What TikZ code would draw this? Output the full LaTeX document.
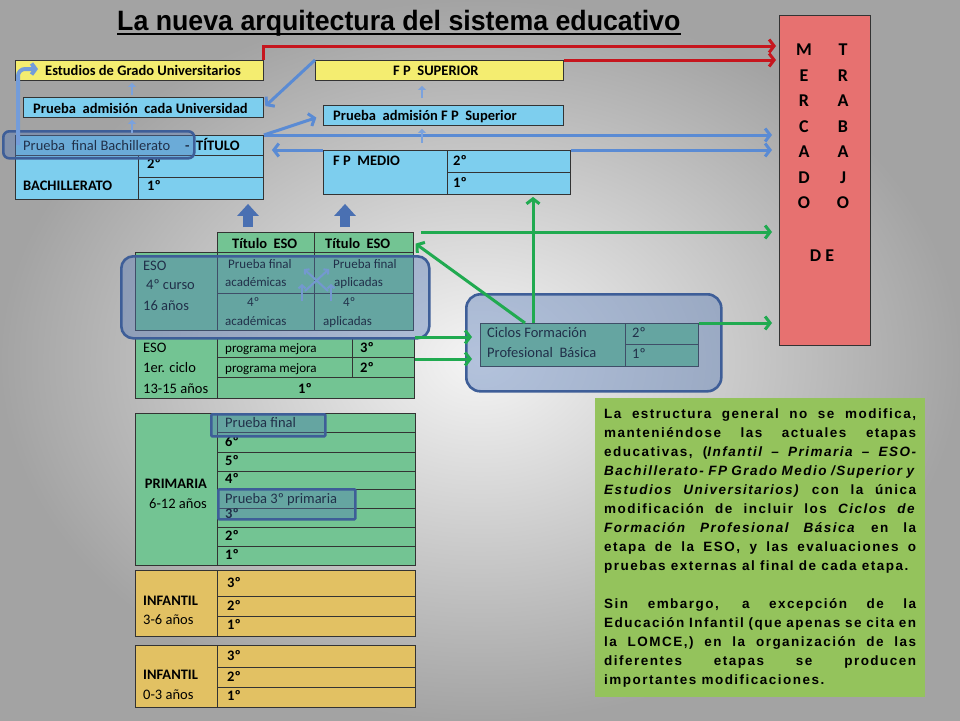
\documentclass[tikz,border=0pt]{standalone}
\usepackage{fontspec}
\usepackage{graphicx}
\setmainfont{Carlito}
\newfontfamily\arialf{Liberation Sans}
\newfontfamily\notaf[LetterSpace=11]{Liberation Sans}
\usetikzlibrary{arrows.meta,calc}
\definecolor{amar}{RGB}{244,237,112}
\definecolor{celes}{RGB}{125,206,238}
\definecolor{verde}{RGB}{115,196,147}
\definecolor{oro}{RGB}{226,193,99}
\definecolor{rosa}{RGB}{231,113,112}
\definecolor{pasto}{RGB}{148,195,92}
\definecolor{rojo}{RGB}{198,22,30}
\definecolor{azul}{RGB}{90,139,212}
\definecolor{azulo}{RGB}{74,112,178}
\definecolor{marco}{RGB}{62,94,152}
\definecolor{velo}{RGB}{82,120,184}
\definecolor{hoja}{RGB}{32,170,80}
\newcommand\celda[6]{\node[cel,fill=#6,minimum width=#4pt-#2pt,minimum height=#5pt-#3pt](#1)at(#2,#3){};}
\newcommand\capa[6]{\node[capa,rounded corners=#6pt,minimum width=#4pt-#2pt,minimum height=#5pt-#3pt](#1)at(#2,#3){};}
\begin{document}
\begin{tikzpicture}[x=1pt,y=-1pt,
	cel/.style={draw=black!80,line width=.9pt,anchor=north west,inner sep=0pt},
	rl/.style={draw=black!80,line width=.9pt},
	capa/.style={draw=marco,line width=2.6pt,fill=velo,fill opacity=.4,anchor=north west,inner sep=0pt},
	tb/.style={anchor=base west,inner sep=0pt,font=\fontsize{14.5}{16}\selectfont\bfseries},
	tr/.style={anchor=base west,inner sep=0pt,font=\fontsize{14.5}{16}\selectfont},
	ts/.style={anchor=base west,inner sep=0pt,font=\fontsize{13}{15}\selectfont},
	ml/.style={inner sep=0pt,font=\fontsize{18}{20}\selectfont\bfseries},
	rarr/.style={draw=rojo,line width=3pt,-{Straight Barb[length=5pt,width=13pt]}},
	barr/.style={draw=azul,line width=3pt,-{Straight Barb[length=5pt,width=13pt]}},
	garr/.style={draw=hoja,line width=3pt,-{Straight Barb[length=5pt,width=13pt]}},
	sarr/.style={draw=azul!80,line width=2.5pt,-{Triangle[length=4pt,width=8pt]},shorten <=2pt,shorten >=2pt},
	blk/.style={draw=azulo,line width=10pt,-{Triangle[length=12pt,width=21pt]}},
	xarr/.style={draw=azul!70!white,line width=2pt,-{Straight Barb[length=3pt,width=7pt]}},
	bcur/.style={draw=azul!85!white,line width=4pt,rounded corners=7pt,-{Straight Barb[length=4pt,width=11pt]}}]
\useasboundingbox(0,0)rectangle(960,720);
\shade[inner color=black!4,outer color=black!36](0,0)rectangle(960,720);
\node[anchor=base west,inner sep=0pt,font=\arialf\bfseries\fontsize{28}{30}\selectfont](tit)at(117,30){\scalebox{0.955}[1]{La nueva arquitectura del sistema educativo}};
\draw[line width=1.8pt]($(tit.base west)+(0,4)$)--($(tit.base east)+(0,4)$);
\celda{univ}{15}{60}{263}{80}{amar}
\celda{pauU}{23}{97}{263}{117}{celes}
\celda{bach}{15}{135}{263}{199}{celes}
\celda{fps}{315}{60}{563}{80}{amar}
\celda{pauF}{323}{105}{563}{125}{celes}
\celda{fpm}{323}{150}{570}{194}{celes}
\celda{tesoA}{217}{232}{314}{252}{verde}
\celda{tesoB}{314}{232}{413}{252}{verde}
\celda{eso4}{135}{252}{413}{330}{verde}
\celda{eso1}{135}{337}{414}{398}{verde}
\celda{cic}{480}{323}{698}{366}{verde}
\celda{prim}{135}{413}{415}{565}{verde}
\celda{inf36}{135}{570}{415}{636}{oro}
\celda{inf03}{135}{645}{415}{707}{oro}
\celda{merc}{779}{15}{870}{345}{rosa}
\node[anchor=north west,fill=pasto,inner sep=0pt,minimum width=330pt,minimum height=299pt](nota)at(595,398){};
\draw[rl](15,155)--(263,155)(138,155)--(138,199)(138,177)--(263,177);
\draw[rl](447,150)--(447,194)(447,172)--(570,172);
\draw[rl](217,252)--(217,330)(314,252)--(314,330)(217,293)--(413,293);
\draw[rl](217,337)--(217,398)(352,337)--(352,377)(217,357)--(414,357)(217,377)--(414,377);
\draw[rl](625,323)--(625,366)(625,344)--(698,344);
\draw[rl](217,413)--(217,565);
\foreach\y in{432,452,471,489,508,527,546}{\draw[rl](217,\y)--(415,\y);}
\draw[rl](217,570)--(217,636)(217,596)--(415,596)(217,616)--(415,616);
\draw[rl](217,645)--(217,707)(217,667)--(415,667)(217,687)--(415,687);
\node[tb](tUniv)at(45,75){Estudios de Grado Universitarios};
\node[tb](tPauU)at(33,113){Prueba\ \ admisión\ \ cada Universidad};
\node[tr](tPfb)at(23,150){Prueba\ \ final Bachillerato};
\node[tb](tTit)at(185,150){-\ \ TÍTULO};
\node[tb](tBach)at(23,190){BACHILLERATO};
\node[tb](b2)at(147,168){2º};
\node[tb](b1)at(147,190){1º};
\node[tb](tFps)at(393,75){F P\ \ SUPERIOR};
\node[tb](tPauF)at(333,120){Prueba\ \ admisión F P\ \ Superior};
\node[tb](tFpm)at(333,165){F P\ \ MEDIO};
\node[tb](f2)at(453,165){2º};
\node[tb](f1)at(453,187){1º};
\node[tb](tTa)at(232,248){Título\ \ ESO};
\node[tb](tTb)at(325,248){Título\ \ ESO};
\node[tr](e4a)at(143,270){ESO};
\node[tr](e4b)at(146,289){4º curso};
\node[tr](e4c)at(143,310){16 años};
\node[ts](pfa1)at(228,268){Prueba final};
\node[ts](pfa2)at(225,286){académicas};
\node[ts](pfb1)at(333,268){Prueba final};
\node[ts](pfb2)at(334,286){aplicadas};
\node[ts](c4a1)at(247,306){4º};
\node[ts](c4a2)at(225,325){académicas};
\node[ts](c4b1)at(343,306){4º};
\node[ts](c4b2)at(323,325){aplicadas};
\node[tr](e1a)at(143,352){ESO};
\node[tr](e1b)at(143,372){1er. ciclo};
\node[tr](e1c)at(143,393){13-15 años};
\node[ts](pm3)at(225,352){programa mejora};
\node[ts](pm2)at(225,372){programa mejora};
\node[tb](n3)at(360,352){3º};
\node[tb](n2)at(360,372){2º};
\node[tb](n1)at(298,393){1º};
\node[tr](tCic1)at(487,337){Ciclos Formación};
\node[tr](tCic2)at(487,357){Profesional\ \ Básica};
\node[tr](c2)at(632,337){2º};
\node[tr](c1)at(632,358){1º};
\node[tb,anchor=base](tPrim)at(176,488){PRIMARIA};
\node[tr,anchor=base](tPrimE)at(178,508){6-12 años};
\node[tr](tPfp)at(225,427){Prueba final};
\node[tr](tP3)at(225,503){Prueba 3º primaria};
\foreach\t/\y[count=\i]in{6º/446,5º/465,4º/483,3º/518,2º/540,1º/559}{\node[tb](p\i)at(225,\y){\t};}
\node[tb](tInfA)at(143,605){INFANTIL};
\node[tr](tInfAe)at(143,624){3-6 años};
\foreach\t/\y[count=\i]in{3º/587,2º/610,1º/629}{\node[tb](ia\i)at(227,\y){\t};}
\node[tb](tInfB)at(143,679){INFANTIL};
\node[tr](tInfBe)at(143,699){0-3 años};
\foreach\t/\y[count=\i]in{3º/660,2º/681,1º/700}{\node[tb](ib\i)at(227,\y){\t};}
\foreach\l/\r[count=\i]in{M/T,E/R,R/A,C/B,A/A,D/J,O/O}{\node[ml](ml\i)at(804,{24.5+25.5*\i}){\l};\node[ml](mr\i)at(843,{24.5+25.5*\i}){\r};}
\node[ml](mDE)at(822,256){D E};
\node[anchor=north west,inner sep=0pt,text width=312pt,align=justify,font=\notaf\bfseries\fontsize{13.5}{19}\selectfont](tNota)at(604,409){\tolerance=10000\hyphenpenalty=10000
La estructura general no se modifica,\linebreak
manteniéndose las actuales etapas\linebreak
educativas, (\textit{Infantil – Primaria – ESO-}\linebreak
\textit{Bachillerato- FP Grado Medio /Superior y}\linebreak
\textit{Estudios Universitarios)} con la única\linebreak
modificación de incluir los \textit{Ciclos de}\linebreak
\textit{Formación Profesional Básica} en la\linebreak
etapa de la ESO, y las evaluaciones o\linebreak
pruebas externas al final de cada etapa.\par\vspace{19pt}
Sin embargo, a excepción de la\linebreak
Educación Infantil (que apenas se cita en\linebreak
la LOMCE,) en la organización de las\linebreak
diferentes etapas se producen\linebreak
importantes modificaciones.};
\coordinate(q1)at(302,301);\coordinate(q2)at(302,284);
\coordinate(q3)at(331,301);\coordinate(q4)at(331,284);
\coordinate(q5)at(305,291);\coordinate(q6)at(329,269);
\coordinate(q7)at(328,291);\coordinate(q8)at(304,269);
\foreach\a/\b in{q1/q2,q3/q4,q5/q6,q7/q8}{\draw[xarr](\a)--(\b);}
\capa{bachO}{2}{130}{193}{157}{6}
\capa{esoO}{120}{255}{428}{337}{12}
\capa{cicO}{465}{293}{720}{390}{14}
\capa{pfO}{210}{413}{324}{435}{1}
\capa{p3O}{217}{488}{354}{518}{1}
\coordinate(rA)at(776,46);
\draw[rarr](univ.north east)|-(rA);
\draw[rarr,shorten >=3pt](fps.north east)--(fps.north east-|merc.west);
\draw[barr,shorten >=2pt](fps.north west)--(pauU.east);
\draw[barr,shorten >=7pt](bach.north east)--(pauF.west);
\draw[barr,shorten >=7pt](bach.north east)--(bach.north east-|merc.west);
\draw[barr,shorten >=8pt](fpm.north west)--(fpm.north west-|bach.east);
\draw[barr,shorten >=7pt](fpm.north east)--(fpm.north east-|merc.west);
\coordinate(ux)at(132,0);\coordinate(fx)at(422,0);
\draw[sarr](pauU.north-|ux)--(univ.south-|ux);
\draw[sarr](bach.north-|ux)--(pauU.south-|ux);
\draw[sarr,shorten <=7pt,shorten >=5pt](pauF.north-|fx)--(fps.south-|fx);
\draw[sarr,shorten <=7pt,shorten >=3pt](fpm.north-|fx)--(pauF.south-|fx);
\coordinate(ka)at(248,0);\coordinate(kb)at(345,0);
\draw[blk,shorten <=5pt,shorten >=4pt](tesoA.north-|ka)--(bach.south-|ka);
\draw[blk,shorten <=5pt,shorten >=9pt](tesoB.north-|kb)--(fpm.south-|kb);
\coordinate(gd)at(525,0);\coordinate(gv)at(533,0);
\draw[garr,shorten <=7pt,shorten >=7pt](tesoB.north east)--(tesoB.north east-|merc.west);
\draw[garr,shorten >=2pt](cic.north-|gd)--(tesoB.east);
\draw[garr,shorten >=2pt](cic.north-|gv)--(fpm.south-|gv);
\draw[garr,shorten >=8pt](eso1.north east)--(eso1.north east-|cic.west);
\coordinate(e2)at($(eso1.north east)+(0,22)$);
\draw[garr,shorten >=8pt](e2)--(e2-|cic.west);
\draw[garr,shorten >=7pt](cic.north east)--(cic.north east-|merc.west);
\coordinate(cb)at(18,145);\coordinate(cu)at(38,69);
\draw[bcur](cb)|-(cu);
\end{tikzpicture}
\end{document}
